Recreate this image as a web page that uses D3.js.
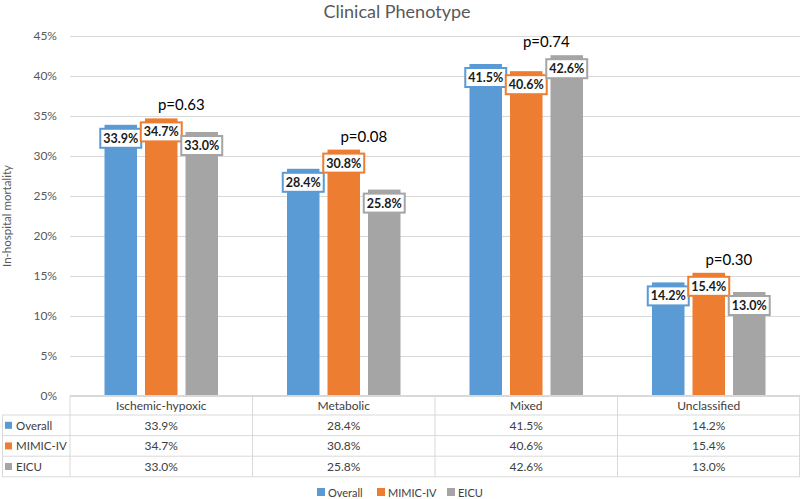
<!DOCTYPE html>
<html>
<head>
<meta charset="utf-8">
<script src="https://cdn.jsdelivr.net/npm/d3@7"></script>
<style>
  html, body { margin: 0; padding: 0; background: #fff; }
  svg { display: block; font-family: Lato, "Open Sans", sans-serif; }
</style>
</head>
<body>
<svg id="chart" width="800" height="499"></svg>
<script>
const categories = ["Ischemic-hypoxic", "Metabolic", "Mixed", "Unclassified"];
const seriesNames = ["Overall", "MIMIC-IV", "EICU"];
const overall = [33.9, 28.4, 41.5, 14.2];
const mimic = [34.7, 30.8, 40.6, 15.4];
const eicu = [33.0, 25.8, 42.6, 13.0];
const pValues = ["p=0.63", "p=0.08", "p=0.74", "p=0.30"];
const yTicks = [0, 5, 10, 15, 20, 25, 30, 35, 40, 45];
const colors = ["#5b9bd5", "#ed7d31", "#a5a5a5"];

(function () {
const seriesValues = [overall, mimic, eicu];
const fmt = v => v.toFixed(1) + "%";

const svg = d3.select("#chart");
const pLeft = 70, pRight = 800, pTop = 36, pBottom = 396;

const x0 = d3.scaleBand().domain(categories).range([pLeft, pRight]).padding(0);
const bw = x0.bandwidth();
const x1 = d3.scaleBand().domain(seriesNames)
  .range([bw / 2 - 56.75, bw / 2 + 56.75]).paddingInner(0.1975).paddingOuter(0);
const y = d3.scaleLinear().domain([0, 45]).range([pBottom, pTop]);

// Title
svg.append("text").attr("x", 397).attr("y", 18).attr("text-anchor", "middle")
  .attr("font-size", 18).attr("fill", "#595959").text("Clinical Phenotype");

// Gridlines + y axis
const yAxis = d3.axisLeft(y).tickValues(yTicks).tickFormat(d => d + "%").tickSize(-(pRight - pLeft)).tickPadding(13);
const gy = svg.append("g").attr("transform", `translate(${pLeft},0)`).call(yAxis);
gy.select(".domain").remove();
gy.selectAll(".tick line").attr("stroke", "#d9d9d9").attr("stroke-width", 1);
gy.selectAll(".tick text").attr("fill", "#595959").attr("font-size", 12).attr("font-family", "Lato, sans-serif");

// y label
svg.append("text").attr("transform", `translate(11,${(pTop + pBottom) / 2}) rotate(-90)`)
  .attr("text-anchor", "middle").attr("font-size", 11.5).attr("fill", "#595959")
  .text("In-hospital mortality");

// Bars
const data = categories.map((c, i) => ({
  cat: c, i,
  vals: seriesNames.map((s, j) => ({ s, j, v: seriesValues[j][i], cat: c }))
}));

const groups = svg.append("g").selectAll("g").data(data).join("g")
  .attr("transform", d => `translate(${x0(d.cat)},0)`);

groups.selectAll("rect.bar").data(d => d.vals).join("rect").attr("class", "bar")
  .attr("x", d => x1(d.s)).attr("width", x1.bandwidth())
  .attr("y", d => y(d.v)).attr("height", d => y(0) - y(d.v))
  .attr("fill", d => colors[d.j]);

// Data labels
groups.each(function (d) {
  const g = d3.select(this);
  d.vals.forEach(v => {
    const cx = x1(v.s) + x1.bandwidth() / 2;
    const ty = y(v.v) + 4;
    const lg = g.append("g");
    const t = lg.append("text").attr("x", cx).attr("y", ty + 14)
      .attr("text-anchor", "middle").attr("font-size", 12.5).attr("font-weight", "bold")
      .attr("fill", "#1a1a1a").text(fmt(v.v));
    const w = t.node().getComputedTextLength() + 6;
    lg.insert("rect", "text").attr("x", cx - w / 2).attr("y", ty).attr("width", w).attr("height", 19)
      .attr("fill", "#fff").attr("stroke", colors[v.j]).attr("stroke-width", 2);
  });
  const maxTop = d3.min(d.vals, v => y(v.v));
  g.append("text").attr("x", bw / 2 + 20).attr("y", maxTop - 8).attr("text-anchor", "middle")
    .attr("font-size", 15).attr("fill", "#000").text(pValues[d.i]);
});

// Data table
const tableTop = 395.5, headerBottom = 415, rowH = 20.6;
const rowYs = [headerBottom, headerBottom + rowH, headerBottom + 2 * rowH, headerBottom + 3 * rowH];
const tg = svg.append("g").attr("stroke", "#d9d9d9").attr("stroke-width", 1);
tg.append("line").attr("x1", pLeft).attr("x2", pRight).attr("y1", tableTop).attr("y2", tableTop);
rowYs.forEach(ry => tg.append("line").attr("x1", 2).attr("x2", pRight).attr("y1", ry).attr("y2", ry));
categories.forEach(c => {
  tg.append("line").attr("x1", x0(c)).attr("x2", x0(c)).attr("y1", tableTop).attr("y2", rowYs[3]);
});
tg.append("line").attr("x1", pRight - 0.5).attr("x2", pRight - 0.5).attr("y1", tableTop).attr("y2", rowYs[3]);
tg.append("line").attr("x1", 2.5).attr("x2", 2.5).attr("y1", headerBottom).attr("y2", rowYs[3]);

const textCol = "#404040";
categories.forEach(c => {
  svg.append("text").attr("x", x0(c) + bw / 2).attr("y", (tableTop + headerBottom) / 2 + 4.5)
    .attr("text-anchor", "middle").attr("font-size", 12).attr("fill", textCol).text(c);
});
seriesNames.forEach((s, j) => {
  const cy = rowYs[j] + rowH / 2;
  svg.append("rect").attr("x", 5).attr("y", cy - 3.5).attr("width", 7).attr("height", 7).attr("fill", colors[j]);
  svg.append("text").attr("x", 16).attr("y", cy + 4.5).attr("font-size", 11.5).attr("fill", textCol).text(s);
  categories.forEach((c, i) => {
    svg.append("text").attr("x", x0(c) + bw / 2).attr("y", cy + 4.5)
      .attr("text-anchor", "middle").attr("font-size", 12).attr("fill", textCol).text(fmt(seriesValues[j][i]));
  });
});

// Legend
const legendX = [317, 377, 447];
seriesNames.forEach((s, j) => {
  svg.append("rect").attr("x", legendX[j]).attr("y", 488).attr("width", 8).attr("height", 8).attr("fill", colors[j]);
  svg.append("text").attr("x", legendX[j] + 11).attr("y", 496.5).attr("font-size", 11).attr("fill", textCol).text(s);
});
})();
</script>
</body>
</html>
